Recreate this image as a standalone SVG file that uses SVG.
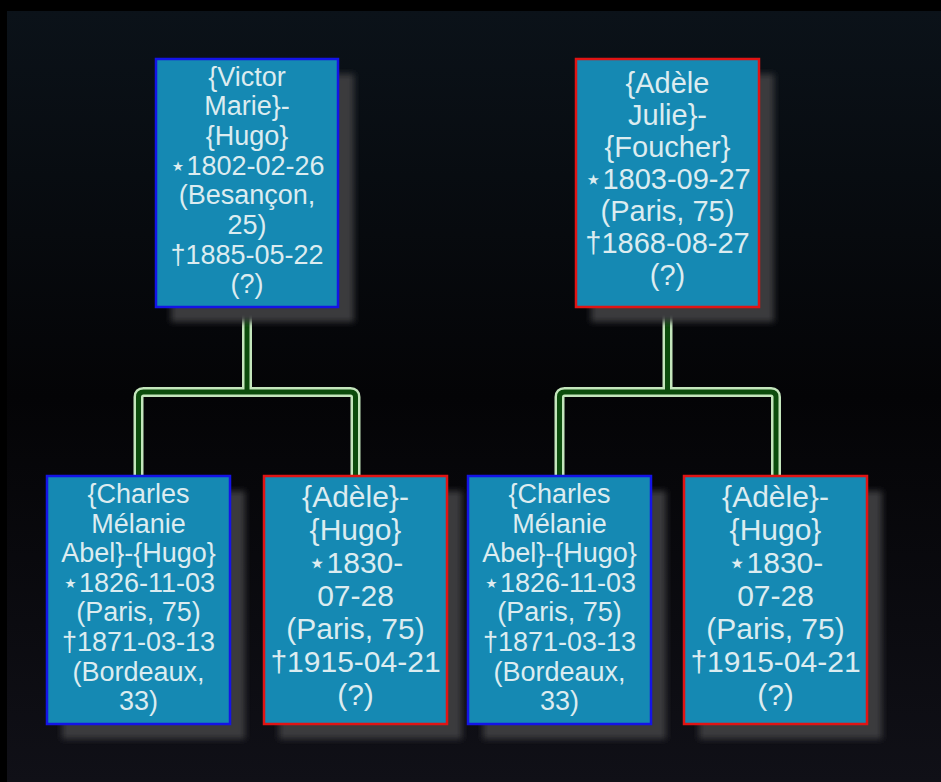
<svg xmlns="http://www.w3.org/2000/svg" width="941" height="782" viewBox="0 0 941 782">
  <defs>
    <linearGradient id="bg" x1="0" y1="0" x2="0" y2="1">
      <stop offset="0" stop-color="#0b1219"/>
      <stop offset="0.5" stop-color="#040406"/>
      <stop offset="1" stop-color="#101017"/>
    </linearGradient>
    <filter id="blur" x="-20%" y="-20%" width="140%" height="140%">
      <feGaussianBlur stdDeviation="3"/>
    </filter>
  </defs>
  <style>
    .shadow { fill: #3b3b3e; filter: url(#blur); }
    .box { fill: #1589b3; stroke-width: 2.5; }
    .male { stroke: #1414e6; }
    .female { stroke: #e01414; }
    .t { fill: #dcecf0; font-family: "Liberation Sans", "DejaVu Sans", sans-serif; text-anchor: middle; }
    .outer { fill: none; stroke: #c4e6bc; stroke-width: 10; stroke-linejoin: round; }
    .inner { fill: none; stroke: #0c4c0c; stroke-width: 5; stroke-linejoin: round; }
  </style>
  <rect x="0" y="0" width="941" height="782" fill="#000"/>
  <rect x="7" y="11" width="934" height="771" fill="url(#bg)"/>

  <g id="connectors">
    <path class="outer" d="M247,307 V392 M138.5,476 V397 Q138.5,392 143.5,392 H350.5 Q355.5,392 355.5,397 V476"/>
    <path class="outer" d="M667.5,307 V392 M559.5,476 V397 Q559.5,392 564.5,392 H771 Q776,392 776,397 V476"/>
    <path class="inner" d="M247,307 V392 M138.5,476 V397 Q138.5,392 143.5,392 H350.5 Q355.5,392 355.5,397 V476"/>
    <path class="inner" d="M667.5,307 V392 M559.5,476 V397 Q559.5,392 564.5,392 H771 Q776,392 776,397 V476"/>
  </g>

  <g id="victor">
    <rect class="shadow" x="171" y="74" width="183" height="248"/>
    <rect class="box male" x="156" y="59" width="182" height="248"/>
    <g class="t" font-size="27">
      <text x="247" y="85.5">{Victor</text>
      <text x="247" y="115.2">Marie}-</text>
      <text x="247" y="144.9">{Hugo}</text>
      <text x="247" y="174.6">⋆1802-02-26</text>
      <text x="247" y="204.3">(Besançon,</text>
      <text x="247" y="234">25)</text>
      <text x="247" y="263.7">†1885-05-22</text>
      <text x="247" y="293.4">(?)</text>
    </g>
  </g>

  <g id="adele-foucher">
    <rect class="shadow" x="591" y="74" width="183" height="248"/>
    <rect class="box female" x="576" y="59" width="183" height="248"/>
    <g class="t" font-size="29">
      <text x="667.5" y="93">{Adèle</text>
      <text x="667.5" y="125">Julie}-</text>
      <text x="667.5" y="157">{Foucher}</text>
      <text x="667.5" y="189">⋆1803-09-27</text>
      <text x="667.5" y="221">(Paris, 75)</text>
      <text x="667.5" y="253">†1868-08-27</text>
      <text x="667.5" y="285">(?)</text>
    </g>
  </g>

  <g id="charles-1">
    <rect class="shadow" x="62" y="491" width="183" height="248"/>
    <rect class="box male" x="47" y="476" width="183" height="248"/>
    <g class="t" font-size="27">
      <text x="138.5" y="503">{Charles</text>
      <text x="138.5" y="532.6">Mélanie</text>
      <text x="138.5" y="562.2">Abel}-{Hugo}</text>
      <text x="138.5" y="591.8">⋆1826-11-03</text>
      <text x="138.5" y="621.4">(Paris, 75)</text>
      <text x="138.5" y="651">†1871-03-13</text>
      <text x="138.5" y="680.6">(Bordeaux,</text>
      <text x="138.5" y="710.2">33)</text>
    </g>
  </g>

  <g id="adele-hugo-1">
    <rect class="shadow" x="279" y="491" width="183" height="248"/>
    <rect class="box female" x="264" y="476" width="183" height="248"/>
    <g class="t" font-size="30">
      <text x="355.5" y="507">{Adèle}-</text>
      <text x="355.5" y="540">{Hugo}</text>
      <text x="355.5" y="573">⋆1830-</text>
      <text x="355.5" y="606">07-28</text>
      <text x="355.5" y="639">(Paris, 75)</text>
      <text x="355.5" y="672">†1915-04-21</text>
      <text x="355.5" y="705">(?)</text>
    </g>
  </g>

  <g id="charles-2">
    <rect class="shadow" x="483" y="491" width="183" height="248"/>
    <rect class="box male" x="468" y="476" width="183" height="248"/>
    <g class="t" font-size="27">
      <text x="559.5" y="503">{Charles</text>
      <text x="559.5" y="532.6">Mélanie</text>
      <text x="559.5" y="562.2">Abel}-{Hugo}</text>
      <text x="559.5" y="591.8">⋆1826-11-03</text>
      <text x="559.5" y="621.4">(Paris, 75)</text>
      <text x="559.5" y="651">†1871-03-13</text>
      <text x="559.5" y="680.6">(Bordeaux,</text>
      <text x="559.5" y="710.2">33)</text>
    </g>
  </g>

  <g id="adele-hugo-2">
    <rect class="shadow" x="699" y="491" width="183" height="248"/>
    <rect class="box female" x="684" y="476" width="183" height="248"/>
    <g class="t" font-size="30">
      <text x="775.5" y="507">{Adèle}-</text>
      <text x="775.5" y="540">{Hugo}</text>
      <text x="775.5" y="573">⋆1830-</text>
      <text x="775.5" y="606">07-28</text>
      <text x="775.5" y="639">(Paris, 75)</text>
      <text x="775.5" y="672">†1915-04-21</text>
      <text x="775.5" y="705">(?)</text>
    </g>
  </g>
</svg>
